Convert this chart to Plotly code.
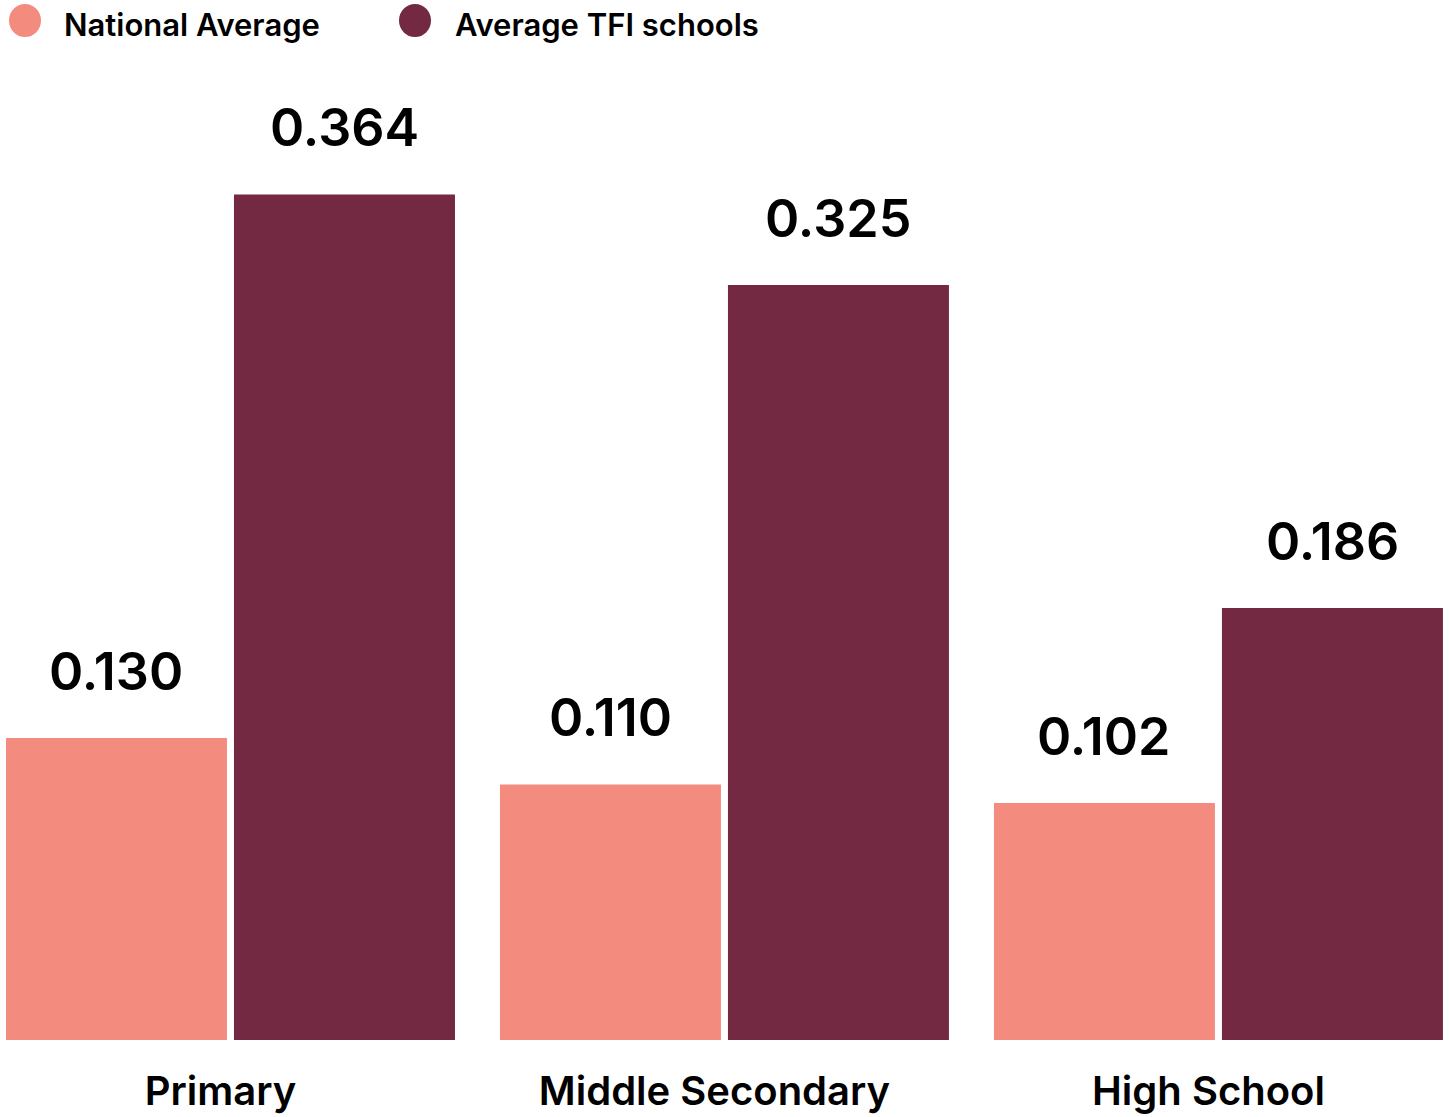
import plotly.graph_objects as go

# Data
categories = ["Primary", "Middle Secondary", "High School"]
national_avg = [0.130, 0.110, 0.102]
tfi_avg = [0.364, 0.325, 0.186]
series_names = ["National Average", "Average TFI schools"]
series_colors = ["#F38C7F", "#732942"]

W, H = 1449, 1117
ML, MR, MT, MB = 6, 6, 60, 77
PW, PH = W - ML - MR, H - MT - MB

FONT = "Inter"


def px_x(px):
    return (px - ML) / PW


def px_y(py):
    return (H - MB - py) / PH


fig = go.Figure()
for name, vals, col in zip(series_names, [national_avg, tfi_avg], series_colors):
    fig.add_trace(go.Bar(
        x=categories, y=vals, name=name, marker_color=col,
        marker_line_width=0, showlegend=False, hoverinfo="x+y",
    ))

# Value labels above each bar
annotations = []
for i, (vals, shift) in enumerate(zip([national_avg, tfi_avg], [-114, 114])):
    for cat, v in zip(categories, vals):
        annotations.append(dict(
            x=cat, y=v, xref="x", yref="y", text=f"{v:.3f}",
            showarrow=False, yanchor="bottom", xanchor="center",
            xshift=shift, yshift=33,
            font=dict(family=FONT, size=52, color="#000", weight=600),
        ))

# Custom legend with round markers
shapes = []
legend_items = [(9, 62), (399, 453)]
for (cx, tx), name, col in zip(legend_items, series_names, series_colors):
    shapes.append(dict(
        type="circle", xref="paper", yref="paper",
        x0=px_x(cx), x1=px_x(cx + 32), y0=px_y(37), y1=px_y(4),
        fillcolor=col, line_width=0,
    ))
    annotations.append(dict(
        x=px_x(tx), y=px_y(24), xref="paper", yref="paper", text=name,
        showarrow=False, xanchor="left", yanchor="middle",
        font=dict(family=FONT, size=31, color="#000", weight=600),
    ))

fig.update_layout(
    width=W, height=H,
    margin=dict(l=ML, r=MR, t=MT, b=MB),
    paper_bgcolor="white", plot_bgcolor="white",
    barmode="group", bargap=0.0769, bargroupgap=0.0307,
    annotations=annotations, shapes=shapes,
    showlegend=False,
    xaxis=dict(
        type="category", range=[-0.4544, 2.4546],
        showgrid=False, showline=False, zeroline=False, ticks="",
        tickfont=dict(family=FONT, size=40, color="#000", weight=600),
        ticklabelstandoff=24, ticklabelshift=-10, automargin=False,
    ),
    yaxis=dict(
        range=[0, PH / 2323], visible=False, showgrid=False, zeroline=False,
        automargin=False,
    ),
)

fig.write_html("out.html")
